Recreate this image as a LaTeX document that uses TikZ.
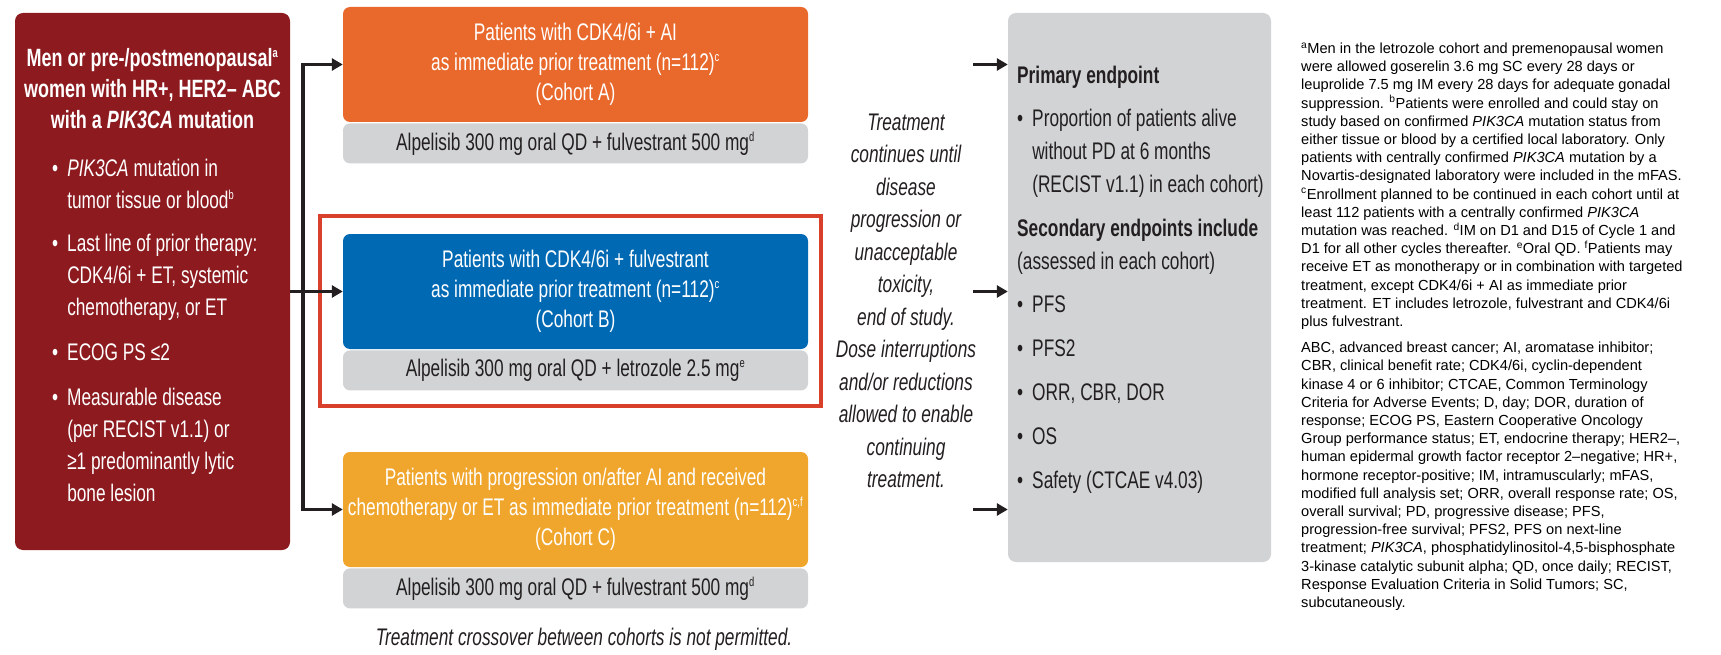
\documentclass[tikz,border=0pt]{standalone}
\usepackage{fontspec}
\setmainfont{Liberation Sans}
\newfontfamily\narrowfont[FakeStretch=0.72]{Liberation Sans}
\usepackage{xcolor}
\usepackage{tikz}
\usetikzlibrary{arrows.meta, positioning, calc}
\definecolor{eligred}{RGB}{140, 26, 31}
\definecolor{cohortA}{RGB}{233, 105, 44}
\definecolor{cohortB}{RGB}{0, 105, 180}
\definecolor{cohortC}{RGB}{240, 166, 44}
\definecolor{dosegray}{RGB}{209, 211, 212}
\definecolor{framered}{RGB}{217, 64, 43}
\definecolor{inkdark}{RGB}{35, 31, 32}
\newcommand{\fnmark}[1]{\textsuperscript{\fontsize{13}{13}\selectfont #1}}
\tikzset{
    eligbox/.style={
        rectangle,
        rounded corners=8pt,
        fill=eligred,
        minimum width=275pt,
        minimum height=537pt,
        inner sep=0pt
    },
    cohort/.style={
        rectangle,
        rounded corners=7pt,
        fill=#1,
        text=white,
        minimum width=465pt,
        minimum height=115pt,
        inner sep=0pt,
        align=center,
        font=\narrowfont\fontsize{24}{30}\selectfont
    },
    dosebar/.style={
        rectangle,
        rounded corners=7pt,
        fill=dosegray,
        text=inkdark,
        minimum width=465pt,
        minimum height=40pt,
        inner sep=0pt,
        font=\narrowfont\fontsize{24}{28}\selectfont
    },
    endbox/.style={
        rectangle,
        rounded corners=8pt,
        fill=dosegray,
        minimum width=263pt,
        minimum height=549pt,
        inner sep=0pt
    },
    note/.style={
        text=inkdark,
        inner sep=0pt,
        align=center,
        font=\narrowfont\itshape\fontsize{24}{32.5}\selectfont
    },
    flow/.style={
        -{Triangle[length=11pt, width=12pt]},
        line width=3.5pt,
        draw=inkdark
    },
    hilite/.style={
        draw=framered,
        line width=4pt
    }
}

\begin{document}
\begin{tikzpicture}[
        x=1pt, y=-1pt,
        node distance=1pt
    ]
        \useasboundingbox (0,0) rectangle (1721,655);

        % eligibility
        \node[eligbox] (elig) at (152.5,281.5) {};
        \node[anchor=north, inner sep=0pt, text=white, align=center, font=\narrowfont\bfseries\fontsize{25}{31}\selectfont] (eligtitle) at (152.5,48) {Men or pre-/postmenopausal\fnmark{a}\\women with HR+, HER2– ABC\\with a \textit{PIK3CA} mutation};
        \node[anchor=north west, inner sep=0pt, text=white, font=\narrowfont\fontsize{24}{32}\selectfont] (eligcrit) at (52,154) {%
            \begin{tabular}{@{}l@{\hspace{9pt}}l@{}}
            \textbullet & \textit{PIK3CA} mutation in\\
                        & tumor tissue or blood\fnmark{b}\\[11pt]
            \textbullet & Last line of prior therapy:\\
                        & CDK4/6i + ET, systemic\\
                        & chemotherapy, or ET\\[13pt]
            \textbullet & ECOG PS ≤2\\[13pt]
            \textbullet & Measurable disease\\
                        & (per RECIST v1.1) or\\
                        & ≥1 predominantly lytic\\
                        & bone lesion
            \end{tabular}};

        % cohorts
        \node[cohort=cohortA] (cohA) at (575.5,64.5) {Patients with CDK4/6i + AI\\as immediate prior treatment (n=112)\fnmark{c}\\(Cohort A)};
        \node[dosebar, below=of cohA] (doseA) {Alpelisib 300 mg oral QD + fulvestrant 500 mg\fnmark{d}};

        \node[cohort=cohortB] (cohB) at (575.5,291.5) {Patients with CDK4/6i + fulvestrant\\as immediate prior treatment (n=112)\fnmark{c}\\(Cohort B)};
        \node[dosebar, below=of cohB] (doseB) {Alpelisib 300 mg oral QD + letrozole 2.5 mg\fnmark{e}};

        \node[cohort=cohortC] (cohC) at (575.5,509.5) {Patients with progression on/after AI and received\\chemotherapy or ET as immediate prior treatment (n=112)\fnmark{c,f}\\(Cohort C)};
        \node[dosebar, below=of cohC] (doseC) {Alpelisib 300 mg oral QD + fulvestrant 500 mg\fnmark{d}};

        \draw[hilite] ($(cohB.north west)+(-23,-18)$) rectangle ($(doseB.south east)+(13,15)$);

        \node[note, anchor=base] (crossnote) at (584,645.5) {Treatment crossover between cohorts is not permitted.};
        \node[note] (contnote) at (906,301) {Treatment\\continues until\\disease\\progression or\\unacceptable\\toxicity,\\end of study.\\Dose interruptions\\and/or reductions\\allowed to enable\\continuing\\treatment.};

        % endpoints
        \node[endbox] (endp) at (1139.5,287.5) {};
        \node[anchor=north west, inner sep=0pt, text=inkdark, font=\narrowfont\fontsize{24}{33}\selectfont] (endptext) at (1017,60.5) {%
            \begin{tabular}{@{}l@{\hspace{9pt}}l@{}}
            \multicolumn{2}{@{}l@{}}{\bfseries Primary endpoint}\\[10pt]
            \textbullet & Proportion of patients alive\\
                        & without PD at 6 months\\
                        & (RECIST v1.1) in each cohort)\\[11pt]
            \multicolumn{2}{@{}l@{}}{\bfseries Secondary endpoints include}\\
            \multicolumn{2}{@{}l@{}}{(assessed in each cohort)}\\[10pt]
            \textbullet & PFS\\[11pt]
            \textbullet & PFS2\\[11pt]
            \textbullet & ORR, CBR, DOR\\[11pt]
            \textbullet & OS\\[11pt]
            \textbullet & Safety (CTCAE v4.03)
            \end{tabular}};

        % footnotes
        \node[anchor=north west, inner sep=0pt, text=black, align=left, font=\fontsize{14.6}{18.2}\selectfont] (notes) at (1301,42.5) {%
            \textsuperscript{a}Men in the letrozole cohort and premenopausal women\\
            were allowed goserelin 3.6 mg SC every 28 days or\\
            leuprolide 7.5 mg IM every 28 days for adequate gonadal\\
            suppression. \textsuperscript{b}Patients were enrolled and could stay on\\
            study based on confirmed \textit{PIK3CA} mutation status from\\
            either tissue or blood by a certified local laboratory. Only\\
            patients with centrally confirmed \textit{PIK3CA} mutation by a\\
            Novartis-designated laboratory were included in the mFAS.\\
            \textsuperscript{c}Enrollment planned to be continued in each cohort until at\\
            least 112 patients with a centrally confirmed \textit{PIK3CA}\\
            mutation was reached. \textsuperscript{d}IM on D1 and D15 of Cycle 1 and\\
            D1 for all other cycles thereafter. \textsuperscript{e}Oral QD. \textsuperscript{f}Patients may\\
            receive ET as monotherapy or in combination with targeted\\
            treatment, except CDK4/6i + AI as immediate prior\\
            treatment. ET includes letrozole, fulvestrant and CDK4/6i\\
            plus fulvestrant.\\[8pt]
            ABC, advanced breast cancer; AI, aromatase inhibitor;\\
            CBR, clinical benefit rate; CDK4/6i, cyclin-dependent\\
            kinase 4 or 6 inhibitor; CTCAE, Common Terminology\\
            Criteria for Adverse Events; D, day; DOR, duration of\\
            response; ECOG PS, Eastern Cooperative Oncology\\
            Group performance status; ET, endocrine therapy; HER2–,\\
            human epidermal growth factor receptor 2–negative; HR+,\\
            hormone receptor-positive; IM, intramuscularly; mFAS,\\
            modified full analysis set; ORR, overall response rate; OS,\\
            overall survival; PD, progressive disease; PFS,\\
            progression-free survival; PFS2, PFS on next-line\\
            treatment; \textit{PIK3CA}, phosphatidylinositol-4,5-bisphosphate\\
            3-kinase catalytic subunit alpha; QD, once daily; RECIST,\\
            Response Evaluation Criteria in Solid Tumors; SC,\\
            subcutaneously.};

        % connectors
        \coordinate (split) at (303,0);
        \coordinate (gap) at (973,0);
        \draw[flow] (elig.east |- cohB.west) -- (cohB.west);
        \draw[flow] (split |- cohB.west) |- (cohA.west);
        \draw[flow] (split |- cohB.west) |- (cohC.west);
        \foreach \c in {cohA, cohB, cohC}
            \draw[flow] (gap |- \c.east) -- (endp.west |- \c.east);
    \end{tikzpicture}
\end{document}
